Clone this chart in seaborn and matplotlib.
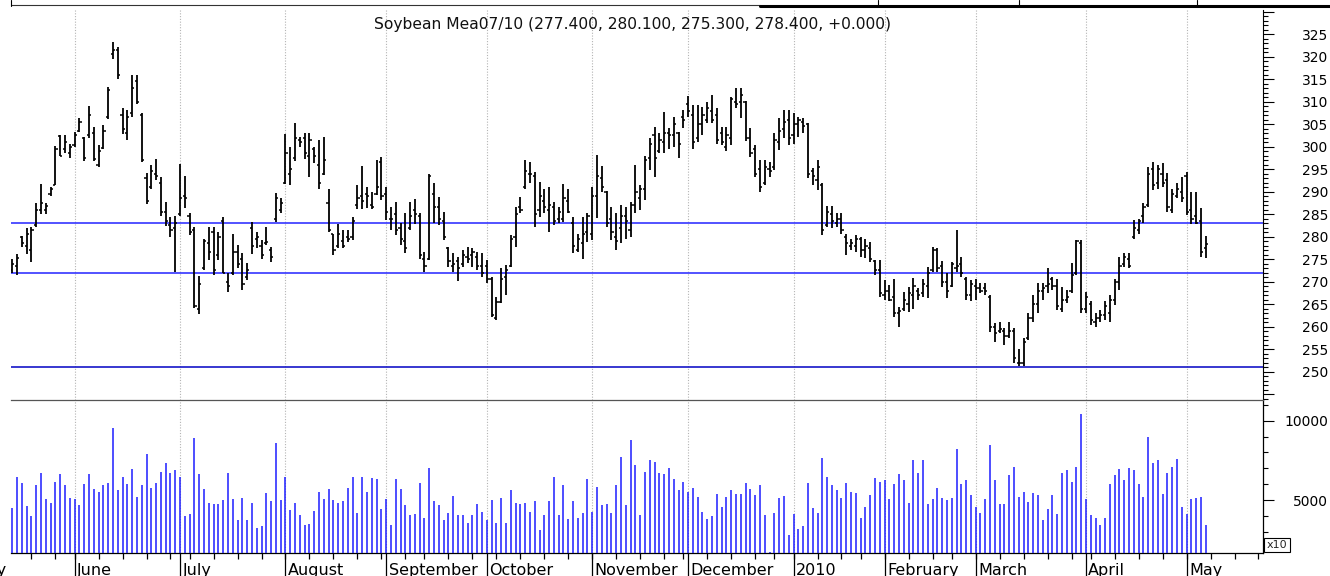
import numpy as np
import pandas as pd
import matplotlib
matplotlib.use('Agg')
import matplotlib.pyplot as plt
import matplotlib.transforms as mtrans
from matplotlib.lines import Line2D
from matplotlib.ticker import FixedLocator, FuncFormatter
import seaborn as sns

title = 'Soybean Mea07/10 (277.400, 280.100, 275.300, 278.400, +0.000)'

# trading calendar (CBOT closed on these days)
holidays = ['2009-05-25', '2009-07-03', '2009-09-07', '2009-11-26', '2009-12-25',
            '2010-01-01', '2010-01-18', '2010-02-15', '2010-04-02', '2010-05-31']
first_session = '2009-05-12'

month_names = ['May', 'June', 'July', 'August', 'September', 'October', 'November',
               'December', '2010', 'February', 'March', 'April', 'May']

# daily bars, 12 May 2009 .. 7 May 2010
highs = [275.1, 276.2, 280.1, 281.9, 282.1, 287.6, 291.7, 287.6, 291.1, 300.1,
         302.6, 302.7, 300.7, 303.3, 306.3, 302.2, 309.0, 304.4, 300.4, 304.8,
         313.3, 323.3, 322.2, 308.7, 308.1, 315.9, 315.9, 307.6, 294.1, 295.9,
         297.2, 293.3, 287.8, 284.4, 284.6, 296.2, 293.5, 285.2, 282.2, 271.3,
         279.6, 282.2, 282.1, 281.1, 284.4, 271.9, 280.6, 278.1, 276.3, 274.1,
         283.3, 281.1, 279.3, 282.1, 277.8, 289.8, 288.5, 302.8, 300.0, 305.3,
         302.2, 303.1, 303.0, 300.0, 301.5, 302.2, 290.7, 280.7, 282.8, 281.5,
         281.5, 284.4, 291.5, 295.7, 291.1, 290.0, 297.0, 297.8, 291.1, 286.7,
         287.8, 283.0, 285.2, 287.8, 288.3, 285.2, 276.7, 293.9, 291.9, 288.9,
         285.6, 277.8, 276.4, 275.6, 277.0, 277.8, 277.4, 276.7, 276.3, 274.8,
         271.1, 266.7, 273.0, 273.7, 280.4, 286.7, 288.9, 297.0, 296.7, 294.4,
         292.2, 290.7, 291.1, 287.8, 286.7, 291.7, 290.7, 284.4, 280.7, 284.4,
         285.2, 291.1, 298.1, 295.7, 290.2, 286.7, 285.2, 287.0, 286.7, 287.8,
         295.9, 291.5, 297.9, 301.9, 304.3, 303.1, 307.8, 304.1, 306.7, 303.3,
         308.1, 311.3, 309.3, 309.3, 308.9, 310.0, 311.5, 308.5, 304.4, 304.4,
         311.1, 313.0, 313.0, 310.2, 304.1, 300.4, 297.0, 297.0, 296.7, 303.0,
         306.3, 308.1, 308.1, 307.4, 306.7, 306.3, 305.2, 295.2, 297.0, 291.9,
         286.8, 286.8, 285.2, 285.2, 280.7, 279.6, 280.4, 280.0, 279.6, 278.9,
         274.8, 274.8, 270.4, 269.3, 270.7, 264.4, 267.8, 268.9, 270.8, 268.5,
         270.5, 273.3, 277.8, 277.4, 274.7, 271.9, 274.4, 281.6, 275.6, 271.1,
         270.4, 270.7, 269.8, 269.6, 267.0, 260.9, 261.1, 259.6, 261.1, 259.6,
         255.0, 257.4, 263.0, 267.0, 269.6, 269.8, 273.0, 271.1, 270.7, 268.9,
         268.1, 274.1, 279.3, 279.3, 267.8, 265.6, 263.0, 263.7, 265.6, 267.0,
         270.7, 275.6, 276.3, 276.3, 283.7, 283.9, 287.4, 295.6, 296.7, 295.9,
         296.3, 294.1, 290.7, 291.9, 293.3, 294.4, 290.0, 290.0, 286.3, 280.1]

lows = [271.9, 271.5, 277.8, 276.2, 274.4, 282.1, 285.0, 285.0, 289.1, 291.5,
        297.9, 298.7, 297.4, 299.9, 303.3, 296.9, 301.9, 296.9, 295.5, 299.6,
        306.1, 319.6, 315.0, 302.8, 301.6, 306.7, 309.5, 296.5, 287.3, 290.7,
        292.7, 284.6, 282.4, 280.0, 272.2, 284.7, 286.3, 280.4, 264.1, 262.8,
        272.6, 274.8, 271.5, 274.8, 271.9, 267.8, 271.5, 273.0, 268.2, 270.4,
        276.2, 277.4, 275.0, 278.1, 274.4, 283.3, 285.3, 291.7, 291.5, 296.9,
        300.0, 297.2, 293.3, 296.3, 290.7, 293.7, 281.1, 275.9, 277.4, 277.4,
        278.9, 279.3, 286.1, 286.1, 286.3, 286.1, 289.3, 288.1, 283.7, 281.5,
        280.4, 278.1, 276.3, 281.5, 282.9, 275.0, 272.2, 274.8, 283.0, 282.6,
        279.3, 273.3, 272.2, 270.2, 273.3, 274.1, 273.3, 272.7, 271.1, 269.8,
        262.2, 261.5, 265.2, 267.0, 273.3, 277.8, 285.3, 290.7, 291.9, 282.2,
        284.4, 285.3, 281.1, 282.6, 283.0, 283.3, 285.2, 276.3, 276.7, 275.0,
        278.9, 279.3, 284.1, 290.0, 282.2, 279.3, 277.0, 278.5, 279.6, 280.0,
        285.2, 285.9, 288.2, 294.8, 293.3, 298.5, 298.5, 299.6, 300.0, 297.4,
        304.1, 306.7, 299.6, 301.1, 302.6, 305.2, 305.2, 300.7, 300.4, 299.1,
        300.4, 308.5, 306.3, 301.3, 297.8, 293.2, 290.0, 291.5, 293.3, 294.8,
        299.3, 301.9, 300.4, 300.7, 302.2, 303.0, 293.0, 291.5, 290.4, 280.4,
        282.2, 281.9, 282.2, 280.7, 275.9, 277.0, 276.7, 275.6, 275.2, 274.4,
        271.5, 266.7, 265.9, 265.6, 262.2, 260.0, 263.5, 263.3, 264.0, 265.9,
        266.7, 266.3, 272.2, 272.2, 268.9, 266.3, 268.9, 272.2, 271.1, 265.9,
        265.8, 265.9, 267.4, 267.0, 258.9, 256.7, 258.5, 255.9, 257.4, 251.9,
        251.3, 251.3, 257.0, 261.1, 263.0, 265.9, 267.4, 268.1, 263.7, 263.3,
        265.2, 267.4, 271.5, 263.0, 263.0, 260.4, 260.0, 261.1, 261.5, 261.1,
        264.8, 268.1, 273.3, 273.0, 279.6, 280.7, 283.0, 286.7, 290.4, 290.7,
        291.1, 285.6, 285.2, 288.5, 287.8, 284.8, 282.8, 282.8, 275.6, 275.3]

opens = [272.5, 273.5, 280.0, 278.0, 277.0, 282.5, 286.0, 286.0, 289.5, 291.5,
         302.4, 299.5, 298.5, 300.3, 303.5, 302.0, 302.5, 303.0, 296.0, 299.8,
         306.5, 320.5, 321.5, 307.0, 303.0, 307.5, 314.5, 307.0, 293.0, 291.0,
         294.0, 292.0, 285.5, 282.5, 282.0, 285.0, 289.0, 284.5, 281.5, 264.0,
         273.0, 278.5, 281.0, 276.0, 283.5, 270.0, 272.0, 276.5, 275.0, 271.0,
         282.0, 279.5, 278.0, 278.5, 277.0, 284.0, 286.0, 292.0, 294.0, 297.5,
         301.5, 302.0, 298.0, 299.5, 296.0, 294.0, 287.5, 280.5, 278.0, 279.0,
         280.0, 280.0, 287.0, 289.0, 289.5, 287.0, 289.5, 296.5, 289.5, 284.0,
         285.0, 282.0, 279.0, 282.0, 286.0, 284.5, 275.0, 275.0, 289.5, 286.5,
         283.5, 277.5, 273.5, 274.5, 274.0, 275.5, 276.0, 275.5, 273.5, 273.5,
         270.5, 262.0, 265.5, 271.0, 273.5, 280.0, 286.5, 291.0, 294.0, 293.5,
         286.0, 288.0, 286.0, 286.5, 284.0, 284.0, 288.0, 283.0, 277.0, 278.5,
         281.0, 280.5, 289.0, 293.0, 290.0, 284.0, 280.0, 282.0, 284.5, 281.5,
         287.0, 288.5, 290.5, 297.5, 302.5, 299.0, 301.0, 303.0, 302.5, 303.0,
         306.5, 309.5, 307.0, 302.0, 305.0, 306.0, 308.0, 307.0, 303.0, 300.0,
         302.0, 310.0, 310.0, 310.0, 302.0, 299.5, 295.0, 292.0, 295.0, 295.5,
         301.0, 304.0, 306.0, 302.5, 305.0, 305.5, 305.0, 294.5, 292.5, 291.5,
         282.5, 285.0, 283.0, 284.0, 280.0, 278.0, 278.0, 279.5, 277.0, 277.5,
         274.5, 272.5, 267.0, 268.0, 266.5, 263.0, 264.0, 265.0, 267.0, 268.0,
         267.5, 269.0, 272.5, 277.0, 273.5, 270.0, 269.0, 273.0, 274.0, 270.5,
         267.0, 269.0, 268.5, 268.5, 266.5, 260.0, 259.0, 259.0, 258.0, 259.0,
         252.0, 252.0, 257.5, 262.0, 265.0, 268.0, 269.0, 270.5, 269.0, 264.0,
         266.0, 268.0, 272.0, 278.5, 264.0, 265.0, 261.0, 262.0, 262.5, 263.0,
         266.0, 270.0, 274.0, 275.0, 280.0, 281.5, 284.5, 287.0, 295.0, 292.0,
         294.0, 292.5, 286.0, 289.0, 290.0, 293.5, 286.0, 284.5, 283.5, 277.4]

closes = [274.0, 275.2, 278.5, 280.5, 281.5, 286.0, 287.5, 286.8, 290.5, 299.5,
          298.0, 301.0, 299.9, 302.7, 305.5, 297.5, 307.0, 297.3, 299.0, 303.5,
          312.5, 321.5, 316.0, 304.0, 306.5, 313.0, 310.0, 297.0, 288.0, 294.5,
          293.5, 285.5, 283.5, 281.5, 283.0, 288.5, 288.5, 281.0, 264.5, 269.5,
          279.0, 276.5, 272.5, 280.0, 272.0, 269.0, 276.5, 274.0, 269.5, 272.5,
          278.0, 280.0, 276.0, 278.8, 275.5, 288.5, 287.5, 298.5, 295.0, 302.0,
          301.0, 298.5, 301.5, 298.0, 292.0, 297.0, 281.5, 277.0, 280.5, 278.0,
          279.5, 283.5, 288.5, 288.0, 289.0, 286.5, 291.0, 289.0, 285.5, 284.0,
          281.5, 279.5, 277.5, 284.5, 285.0, 276.0, 273.5, 293.5, 286.5, 284.0,
          280.0, 274.5, 274.0, 273.0, 276.0, 275.0, 276.5, 273.5, 272.0, 270.5,
          262.5, 265.5, 270.5, 272.5, 279.5, 285.0, 286.0, 294.5, 294.0, 285.0,
          289.0, 286.5, 287.0, 283.5, 285.5, 288.5, 285.5, 278.0, 279.5, 280.5,
          284.5, 289.0, 293.5, 291.0, 283.0, 281.0, 279.0, 284.5, 283.5, 287.0,
          290.0, 290.5, 297.0, 300.5, 297.5, 301.5, 303.0, 302.5, 305.0, 300.5,
          306.0, 308.0, 301.0, 305.0, 307.0, 308.5, 306.0, 301.5, 301.0, 302.5,
          310.5, 309.5, 311.5, 302.0, 298.5, 294.0, 291.0, 295.5, 294.5, 301.5,
          303.5, 305.5, 302.0, 305.0, 306.0, 304.5, 294.0, 293.5, 295.5, 281.5,
          285.5, 283.5, 284.0, 281.5, 278.5, 278.5, 279.5, 277.0, 278.0, 275.0,
          272.5, 267.5, 268.0, 266.0, 263.0, 263.5, 266.0, 267.5, 269.0, 267.0,
          269.5, 272.0, 277.0, 273.0, 270.0, 268.0, 274.0, 273.5, 272.0, 267.0,
          269.5, 268.5, 268.0, 268.0, 260.0, 258.5, 259.5, 258.0, 259.0, 253.0,
          252.0, 256.5, 262.0, 265.0, 268.0, 268.5, 269.5, 269.0, 264.5, 266.0,
          266.5, 271.5, 279.0, 264.0, 266.5, 261.5, 262.0, 262.5, 264.5, 266.0,
          270.0, 273.5, 275.5, 273.5, 282.0, 283.5, 286.5, 294.0, 291.5, 295.0,
          292.0, 286.5, 289.5, 290.5, 288.5, 285.5, 284.0, 283.0, 276.5, 278.4]

volume = [4517, 6470, 6071, 4601, 3971, 5924, 6701, 5063, 4811, 6155,
          6617, 5924, 5126, 5063, 4664, 5987, 6617, 5693, 5525, 5924,
          6071, 9536, 5630, 6470, 5987, 6953, 5210, 5924, 7898, 5777,
          6071, 6785, 7331, 6701, 6869, 6470, 3971, 4118, 8906, 6638,
          5693, 4811, 4748, 4748, 4979, 6701, 5063, 3719, 5126, 3719,
          4811, 3257, 3341, 5441, 4916, 8591, 4979, 6470, 4349, 4811,
          4055, 3404, 3488, 4286, 5525, 5063, 5693, 4979, 4811, 4916,
          5777, 6470, 4202, 6470, 5525, 6386, 6323, 4433, 5063, 3404,
          6323, 5693, 4664, 4034, 4118, 6071, 3887, 7016, 4916, 4664,
          3719, 4202, 5231, 4034, 4034, 3572, 4034, 4748, 4265, 3719,
          4979, 3572, 5147, 3572, 5609, 4811, 4748, 4811, 4265, 4916,
          3089, 4034, 4916, 6470, 4034, 5924, 3803, 4916, 3887, 4202,
          6323, 4265, 5840, 4664, 4748, 4202, 5924, 7730, 4664, 8759,
          7184, 4034, 6785, 7499, 7415, 6701, 6617, 7016, 6323, 5609,
          6155, 5525, 5756, 5210, 4265, 3803, 3971, 5378, 4580, 5210,
          5609, 5378, 5378, 6071, 5693, 5294, 5924, 4034, 1700, 4202,
          5147, 5231, 2795, 4118, 3173, 3341, 6071, 4517, 4202, 7646,
          6470, 5924, 5609, 5126, 6071, 5525, 5441, 3887, 4580, 5294,
          6386, 6155, 6239, 5063, 6008, 6617, 6239, 4811, 7499, 6701,
          7499, 4748, 5063, 5756, 5126, 4979, 5126, 8213, 6008, 6239,
          5294, 4580, 4202, 5063, 8444, 6239, 4748, 4748, 6554, 7100,
          5210, 5525, 4895, 5441, 5294, 3719, 4433, 5294, 4118, 6701,
          6869, 6155, 7100, 10418, 5063, 4034, 3887, 3404, 3887, 6008,
          6554, 6953, 6239, 7016, 6869, 6008, 5210, 8990, 7331, 7499,
          5378, 6701, 7100, 7583, 4580, 4118, 5063, 5147, 5210, 3404]

levels = [283, 272, 251]
level_colors = ['#3535ff', '#3535ff', '#1515c8']

# ---- calendar positions -------------------------------------------------
cal = pd.bdate_range('2009-05-01', '2010-06-30')
cal = cal[~cal.isin(pd.to_datetime(holidays))]
pos = np.arange(len(cal)) - cal.get_loc(pd.Timestamp(first_session))
cal_df = pd.DataFrame({'date': cal, 'pos': pos})
month_pos = cal_df.groupby([cal.year, cal.month])['pos'].first().values
iso = cal.isocalendar()
week_pos = cal_df.groupby([iso.year.values, iso.week.values])['pos'].first().values

x = np.arange(len(highs))
xlim = (-0.27, 260.94)
week_pos = week_pos[(week_pos > xlim[0]) & (week_pos < xlim[1])]
month_pos = month_pos[:len(month_names)]          # May 2009 .. May 2010
grid_pos = month_pos[(month_pos > xlim[0]) & (month_pos < xlim[1])]

# ---- figure ---------------------------------------------------------------
sns.set_theme(style='white')
plt.rcParams['font.family'] = ['DejaVu Sans']

W, H = 1330, 576
fig = plt.figure(figsize=(W / 100, H / 100), dpi=100, facecolor='white')
axp = fig.add_axes([11 / W, 1 - 400 / H, 1252 / W, 390 / H])
axv = fig.add_axes([11 / W, 1 - 553.3 / H, 1252 / W, 153.3 / H])

for ax in (axp, axv):
    ax.set_facecolor('white')
    ax.set_xlim(*xlim)
    for p in grid_pos:
        ax.axvline(p, color='#b4b4b4', lw=0.8, ls=(0, (1, 1.5)), zorder=0)

# price bars
axp.set_ylim(243.71, 330.38)
for lvl, c in zip(levels, level_colors):
    axp.axhline(lvl, color=c, lw=1.2, zorder=1)
axp.vlines(x, lows, highs, color='black', lw=1.3, zorder=3)
axp.hlines(opens, x - 0.45, x, color='black', lw=1.1, zorder=3)
axp.hlines(closes, x, x + 0.45, color='black', lw=1.1, zorder=3)

# volume
vol_floor = 1641
axv.set_ylim(vol_floor, 11304)
axv.vlines(x, vol_floor, volume, color='#1c1cff', lw=1.1, zorder=3)

# spines
for s in ('top', 'left', 'bottom'):
    axp.spines[s].set_visible(False)
axp.spines['right'].set_color('black')
axp.spines['right'].set_linewidth(0.8)
axv.spines['left'].set_visible(False)
axv.spines['top'].set_color('#555555')
axv.spines['top'].set_linewidth(0.9)
for s in ('right', 'bottom'):
    axv.spines[s].set_color('black')
    axv.spines[s].set_linewidth(0.9)

# y axes on the right
pad_pt = (1328 - 1263 - 10.7) * 0.72
axp.yaxis.tick_right()
axp.yaxis.set_major_locator(FixedLocator(np.arange(245, 331, 5)))
axp.yaxis.set_minor_locator(FixedLocator(np.arange(244, 331, 1)))
axp.yaxis.set_major_formatter(FuncFormatter(lambda v, p: '' if v in (245, 330) else f'{v:.0f}'))
axp.tick_params(axis='y', which='major', right=True, length=7.7, width=0.8, color='black',
                direction='out', pad=pad_pt, labelsize=10, labelcolor='black')
axp.tick_params(axis='y', which='minor', right=True, length=3.6, width=0.8, color='black',
                direction='out')
axp.tick_params(axis='x', which='both', bottom=False, labelbottom=False)

axv.yaxis.tick_right()
axv.yaxis.set_major_locator(FixedLocator([5000, 10000]))
axv.yaxis.set_minor_locator(FixedLocator([2000, 3000, 4000, 6000, 7000, 8000, 9000, 11000]))
axv.yaxis.set_major_formatter(FuncFormatter(lambda v, p: f'{v:.0f}'))
axv.tick_params(axis='y', which='major', right=True, length=7.7, width=0.8, color='black',
                direction='out', pad=pad_pt, labelsize=10, labelcolor='black')
axv.tick_params(axis='y', which='minor', right=True, length=3.6, width=0.8, color='black',
                direction='out')
for lab in axp.get_yticklabels() + axv.get_yticklabels():
    lab.set_horizontalalignment('right')

# weekly ticks and month markers under the volume panel
axv.set_xticks([])
axv.set_xticks(week_pos, minor=True)
axv.tick_params(axis='x', which='minor', bottom=True, length=4.3, width=0.9,
                color='black', direction='out')
trans = mtrans.blended_transform_factory(axv.transData, axv.transAxes)
axv.vlines(month_pos, -0.2, 0, transform=trans, color='black', lw=0.9, clip_on=False)
for k, (p, name) in enumerate(zip(month_pos, month_names)):
    shift = -1.7 if k == 0 else 0.0   # first label runs off the left edge
    axv.text(p + 0.5 + shift, -0.1416, name, transform=trans, ha='left', va='baseline',
             fontsize=11.5, color='black', clip_on=False)

# title and the small scale box
fig.text(633 / W, 1 - 24 / H, title, ha='center', va='center', fontsize=11.2, color='#111111')
fig.text(1277 / W, 1 - 545 / H, 'x10', ha='center', va='center', fontsize=8,
         bbox=dict(boxstyle='square,pad=0.2', fc='white', ec='black', lw=0.8))

# frame strip along the top edge
def fig_line(xs, ys, lw, color='black'):
    fig.add_artist(Line2D([v / W for v in xs], [1 - v / H for v in ys],
                          transform=fig.transFigure, lw=lw, color=color))

fig_line([11, 760], [4.7, 4.7], 0.8, '#333333')
fig_line([760, 1330], [6, 6], 2.2)
for xv in (11, 878, 1019, 1197):
    fig_line([xv, xv], [0, 6], 0.8)

fig.savefig('out.png', dpi=100, facecolor='white')
